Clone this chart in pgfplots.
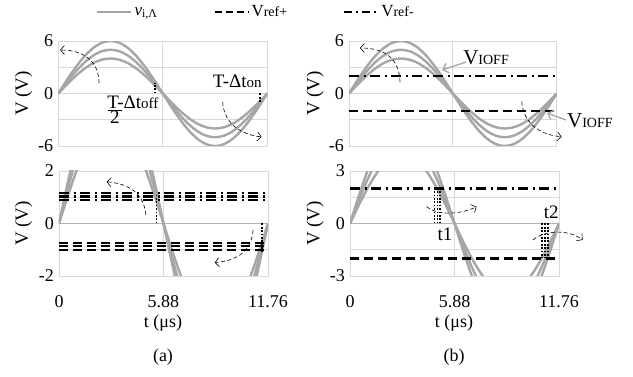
\documentclass[border=0pt]{standalone}
\usepackage{pgfplots}
\pgfplotsset{compat=1.18}
\usepackage{pgfplotstable}
\usepackage{fontspec}
\setmainfont{Liberation Serif}
\usetikzlibrary{arrows.meta}
\definecolor{curvegray}{RGB}{166,166,166}
\definecolor{gridc}{RGB}{217,217,217}
\definecolor{zerog}{RGB}{180,180,180}

\pgfplotstableread{
t     a6      a5      a4
0.00  0.000   0.000   0.000
0.49  1.553   1.294   1.035
0.98  3.000   2.500   2.000
1.47  4.243   3.536   2.828
1.96  5.196   4.330   3.464
2.45  5.796   4.830   3.864
2.94  6.000   5.000   4.000
3.43  5.796   4.830   3.864
3.92  5.196   4.330   3.464
4.41  4.243   3.536   2.828
4.90  3.000   2.500   2.000
5.39  1.553   1.294   1.035
5.88  0.000   0.000   0.000
6.37 -1.553  -1.294  -1.035
6.86 -3.000  -2.500  -2.000
7.35 -4.243  -3.536  -2.828
7.84 -5.196  -4.330  -3.464
8.33 -5.796  -4.830  -3.864
8.82 -6.000  -5.000  -4.000
9.31 -5.796  -4.830  -3.864
9.80 -5.196  -4.330  -3.464
10.29 -4.243 -3.536  -2.828
10.78 -3.000 -2.500  -2.000
11.27 -1.553 -1.294  -1.035
11.76 0.000   0.000   0.000
}\sine

\tikzset{
  annot/.style={black, line width=0.6pt, dash pattern=on 4pt off 2.5pt, -{Straight Barb[length=4pt,width=9pt]}},
  garrow/.style={curvegray, line width=1.3pt, -{Straight Barb[length=5pt,width=10pt]}},
  afont/.style={font=\fontsize{19}{20}\selectfont, inner sep=0pt},
}
\pgfplotsset{
  myax/.style={
    scale only axis, width=209pt, height=105pt,
    xmin=0, xmax=11.76,
    axis line style={gridc, line width=0.8pt},
    grid=major, major grid style={gridc, line width=0.8pt},
    tick style={draw=none},
    clip mode=individual,
    xtick={0,5.88,11.76},
    font=\fontsize{18}{20}\selectfont,
    yticklabel style={inner sep=0pt, xshift=-5pt, anchor=east},
    xticklabel style={inner sep=0pt, yshift=-19pt, anchor=north},
  },
  curve/.style={curvegray, line width=2.4pt, smooth, forget plot},
  vdash/.style={black, line width=2.2pt, dash pattern=on 9pt off 5pt, forget plot},
  vdashdot/.style={black, line width=2.2pt, dash pattern=on 10pt off 4.5pt on 2pt off 4.5pt, forget plot},
  vdot/.style={black, line width=1.7pt, dash pattern=on 1.7pt off 1.7pt, forget plot},
}

\begin{document}
\begin{tikzpicture}
\useasboundingbox (0pt,0pt) rectangle (633pt,377pt);

% ---------- top left ----------
\begin{axis}[myax, at={(58.3pt,231pt)}, anchor=south west,
  ymin=-6, ymax=6, ytick={-6,-3,0,3,6}, yticklabels={-6,,0,,6}, xticklabels={},
  legend style={at={(0.166,1.276)}, anchor=west, draw=none, fill=none,
    legend columns=3, font=\fontsize{17}{18}\selectfont,
    /tikz/every even column/.append style={column sep=54pt}},
  legend image code/.code={\draw[#1] (0pt,0pt) -- (34pt,0pt);},
  legend cell align=left]
\addplot[curve] table[x=t,y=a6] {\sine};
\addplot[curve] table[x=t,y=a5] {\sine};
\addplot[curve] table[x=t,y=a4] {\sine};
\addplot[vdot] coordinates {(5.45,0) (5.45,1.25)};
\addplot[vdot] coordinates {(11.35,0) (11.35,-1.1)};
\addlegendimage{curvegray, line width=2.4pt}
\addlegendentry{\textit{v}\textsubscript{i,Λ}}
\addlegendimage{black, line width=2pt, dash pattern=on 7pt off 4pt}
\addlegendentry{V{\fontsize{14}{14}\selectfont ref+}}
\addlegendimage{black, line width=2pt, dash pattern=on 8pt off 4pt on 2pt off 4pt}
\addlegendentry{V{\fontsize{14}{14}\selectfont ref-}}
\draw[annot] (axis cs:2.29,1.2) .. controls (axis cs:2.3,3.5) and (axis cs:1.5,5.0) .. (axis cs:0.1,4.97);
\draw[annot] (axis cs:9.25,-0.97) .. controls (axis cs:9.3,-3.0) and (axis cs:10.0,-4.6) .. (axis cs:11.44,-4.97);
\node[afont, anchor=base west] at (axis cs:2.75,-1.69) {T-Δt{\fontsize{15}{15}\selectfont off}};
\draw[black, line width=1.4pt] (axis cs:2.81,-1.95) -- (axis cs:3.56,-1.95);
\node[afont, anchor=base] at (axis cs:3.19,-3.45) {2};
\node[afont, anchor=base west] at (axis cs:8.69,0.63) {T-Δt{\fontsize{15}{15}\selectfont on}};
\end{axis}

% ---------- bottom left ----------
\begin{axis}[myax, at={(59pt,101pt)}, anchor=south west,
  ymin=-2, ymax=2, ytick={-2,-1,0,1,2}, yticklabels={-2,,0,,2},
  xticklabels={0,5.88,11.76}]
\addplot[zerog, line width=1.5pt, forget plot] coordinates {(0,0) (11.76,0)};
\addplot[curve] table[x=t,y=a6] {\sine};
\addplot[curve] table[x=t,y=a5] {\sine};
\addplot[curve] table[x=t,y=a4] {\sine};
\addplot[vdashdot] coordinates {(0,1.16) (11.76,1.16)};
\addplot[vdashdot] coordinates {(0,1.03) (11.76,1.03)};
\addplot[vdashdot] coordinates {(0,0.90) (11.76,0.90)};
\addplot[vdash] coordinates {(0,-0.74) (11.76,-0.74)};
\addplot[vdash] coordinates {(0,-0.87) (11.76,-0.87)};
\addplot[vdash] coordinates {(0,-1.00) (11.76,-1.00)};
\addplot[vdot] coordinates {(5.49,0) (5.49,1.16)};
\addplot[vdot] coordinates {(11.44,0) (11.44,-1.05)};
\draw[annot] (axis cs:4.89,0.32) .. controls (axis cs:4.8,1.0) and (axis cs:4.2,1.5) .. (axis cs:2.68,1.59);
\draw[annot] (axis cs:10.92,-0.25) .. controls (axis cs:10.85,-0.9) and (axis cs:10.3,-1.4) .. (axis cs:8.76,-1.49);
\end{axis}

% ---------- top right ----------
\begin{axis}[myax, at={(349pt,231pt)}, anchor=south west, width=207.7pt,
  ymin=-6, ymax=6, ytick={-6,-3,0,3,6}, yticklabels={-6,,0,,6}, xticklabels={}]
\addplot[curve] table[x=t,y=a6] {\sine};
\addplot[curve] table[x=t,y=a5] {\sine};
\addplot[curve] table[x=t,y=a4] {\sine};
\addplot[vdashdot] coordinates {(0,2) (11.76,2)};
\addplot[vdash] coordinates {(0,-2) (11.76,-2)};
\draw[annot] (axis cs:2.89,1.31) .. controls (axis cs:2.85,3.5) and (axis cs:2.3,5.2) .. (axis cs:0.62,5.2);
\draw[annot] (axis cs:9.78,-0.94) .. controls (axis cs:9.85,-3.0) and (axis cs:10.6,-4.7) .. (axis cs:12.04,-4.94);
\draw[garrow] (axis cs:6.63,3.6) -- (axis cs:5.27,2.69);
\draw[garrow] (axis cs:12.29,-3.03) -- (axis cs:11.21,-2.23);
\node[font=\fontsize{21}{22}\selectfont, inner sep=0pt, anchor=base west] at (axis cs:6.46,3.26) {V{\fontsize{14}{14}\selectfont IOFF}};
\node[font=\fontsize{21}{22}\selectfont, inner sep=0pt, anchor=base west] at (axis cs:12.34,-3.94) {V{\fontsize{14}{14}\selectfont IOFF}};
\end{axis}

% ---------- bottom right ----------
\begin{axis}[myax, at={(350pt,101pt)}, anchor=south west,
  ymin=-3, ymax=3, ytick={-3,-1.5,0,1.5,3}, yticklabels={-3,,0,,3},
  xticklabels={0,5.88,11.76}]
\addplot[zerog, line width=1.5pt, forget plot] coordinates {(0,0) (11.76,0)};
\addplot[curve] table[x=t,y=a6] {\sine};
\addplot[curve] table[x=t,y=a5] {\sine};
\addplot[curve] table[x=t,y=a4] {\sine};
\addplot[vdashdot] coordinates {(0,2) (11.76,2)};
\addplot[vdash] coordinates {(0,-2) (11.76,-2)};
\addplot[vdot] coordinates {(4.76,0) (4.76,2)};
\addplot[vdot] coordinates {(4.92,0) (4.92,2)};
\addplot[vdot] coordinates {(5.08,0) (5.08,2)};
\addplot[vdot] coordinates {(10.8,0) (10.8,-2)};
\addplot[vdot] coordinates {(10.97,0) (10.97,-2)};
\addplot[vdot] coordinates {(11.14,0) (11.14,-2)};
\draw[annot] (axis cs:4.31,0.96) .. controls (axis cs:5.0,0.4) and (axis cs:6.3,0.55) .. (axis cs:7.12,0.96);
\draw[annot] (axis cs:10.3,-0.94) .. controls (axis cs:10.9,-0.4) and (axis cs:12.3,-0.3) .. (axis cs:13.09,-0.94);
\node[afont] at (axis cs:5.34,-0.63) {t1};
\node[afont] at (axis cs:11.32,0.63) {t2};
\end{axis}

% ---------- labels ----------
\node[rotate=90, font=\fontsize{19}{20}\selectfont] at (23.5pt,283.5pt) {V (V)};
\node[rotate=90, font=\fontsize{19}{20}\selectfont] at (23.5pt,153.5pt) {V (V)};
\node[rotate=90, font=\fontsize{19}{20}\selectfont] at (315pt,283.5pt) {V (V)};
\node[rotate=90, font=\fontsize{19}{20}\selectfont] at (315pt,153.5pt) {V (V)};
\node[font=\fontsize{18}{20}\selectfont] at (163pt,54pt) {t (μs)};
\node[font=\fontsize{18}{20}\selectfont] at (454pt,54pt) {t (μs)};
\node[font=\fontsize{18}{20}\selectfont] at (163pt,20pt) {(a)};
\node[font=\fontsize{18}{20}\selectfont] at (454pt,20pt) {(b)};
\end{tikzpicture}
\end{document}
